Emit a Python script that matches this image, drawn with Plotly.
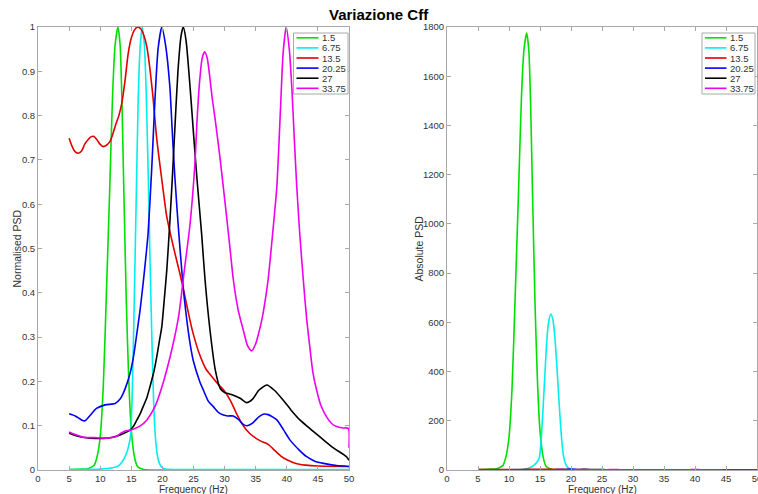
import plotly.graph_objects as go

# ---- data: normalised PSD per Cff value (frequency grids in Hz) ----
series_names = ["1.5", "6.75", "13.5", "20.25", "27", "33.75"]
series_colors = ["#00e000", "#00eeee", "#e00000", "#0000ee", "#000000", "#ee00ee"]
# peak absolute PSD of each series (normalised curve * peak = absolute curve)
peak_abs = [1775, 634, 3.0, 2.5, 2.0, 1.5]

f_15 = [5, 7, 8, 9, 9.5, 10, 10.5, 11, 11.5, 12, 12.4, 12.85, 13.2, 13.5, 13.8,
        14.2, 14.6, 15, 15.5, 16, 17, 20, 30, 40, 50]
p_15 = [0.001, 0.002, 0.003, 0.01, 0.03, 0.075, 0.19, 0.4, 0.62, 0.85, 0.96, 1.0,
        0.96, 0.83, 0.63, 0.38, 0.2, 0.09, 0.03, 0.008, 0.001, 0, 0, 0, 0]

f_675 = [5, 10, 12, 13, 13.5, 14, 14.5, 14.9, 15.2, 15.5, 15.8, 16.1, 16.4, 16.75,
         17.1, 17.4, 17.7, 18.0, 18.3, 18.6, 18.9, 19.3, 19.8, 20.5, 25, 50]
p_675 = [0.001, 0.002, 0.005, 0.01, 0.018, 0.03, 0.05, 0.08, 0.2, 0.4, 0.62, 0.83,
         0.95, 1.0, 0.96, 0.85, 0.68, 0.48, 0.3, 0.15, 0.07, 0.025, 0.008, 0.002,
         0.001, 0.001]

f_135 = [5, 5.5, 6, 6.5, 7, 7.5, 8, 8.5, 9, 9.5, 10, 10.5, 11, 11.5, 12, 12.5, 13,
         13.5, 14, 14.5, 15, 15.5, 16, 16.5, 17, 17.5, 18, 18.5, 19, 19.5, 20, 20.7,
         21.5, 22, 22.8, 23.5, 24.4, 25, 26, 27, 28, 29, 30, 31, 32, 33, 34, 35, 36,
         37, 38, 39, 40, 41, 42, 43, 45, 50]
p_135 = [0.749, 0.73, 0.718, 0.715, 0.72, 0.735, 0.745, 0.752, 0.753, 0.745, 0.735,
         0.73, 0.733, 0.74, 0.757, 0.78, 0.8, 0.83, 0.88, 0.94, 0.975, 0.993, 1.0,
         0.996, 0.982, 0.955, 0.905, 0.84, 0.76, 0.7, 0.645, 0.572, 0.52, 0.49,
         0.444, 0.4, 0.34, 0.305, 0.26, 0.228, 0.21, 0.193, 0.178, 0.155, 0.125, 0.1,
         0.083, 0.072, 0.064, 0.058, 0.045, 0.032, 0.023, 0.017, 0.013, 0.011, 0.009,
         0.008]

f_2025 = [5, 6, 7, 7.55, 8.3, 9.4, 10.8, 12.4, 13.2, 13.7, 14.3, 14.8, 15.4, 15.9,
          16.4, 16.9, 17.3, 17.7, 18.3, 18.8, 19.3, 19.9, 20.5, 21.2, 21.6, 22, 22.5,
          23, 23.5, 24.4, 25, 26, 26.6, 27.4, 28.2, 29, 29.8, 30.5, 31.4, 32.3, 33,
          33.6, 34.5, 35.5, 36.2, 37, 38.4, 39.5, 40.5, 42, 43.2, 44.5, 45.9, 48, 50]
p_2025 = [0.127, 0.122, 0.113, 0.111, 0.122, 0.139, 0.147, 0.15, 0.16, 0.173, 0.195,
          0.218, 0.26, 0.309, 0.36, 0.421, 0.475, 0.534, 0.685, 0.835, 0.95, 1.0,
          0.96, 0.865, 0.76, 0.662, 0.56, 0.47, 0.39, 0.29, 0.245, 0.2, 0.18, 0.155,
          0.143, 0.13, 0.124, 0.122, 0.122, 0.113, 0.103, 0.1, 0.106, 0.12, 0.126,
          0.125, 0.113, 0.09, 0.068, 0.045, 0.03, 0.02, 0.015, 0.01, 0.008]

f_27 = [5, 6, 6.75, 8.4, 10, 11, 12, 13.2, 14, 14.8, 15.4, 15.9, 16.4, 16.9, 17.5,
        18, 18.6, 19.1, 19.5, 19.9, 20.3, 20.7, 21.2, 21.6, 22, 22.5, 23, 23.35,
        23.8, 24.4, 25, 25.6, 26.3, 26.85, 27.65, 28.5, 29.3, 30, 30.7, 31.4, 32.5,
        33.55, 34.5, 35.5, 36.8, 38, 39.4, 40.7, 42.1, 44, 45.9, 47.5, 49.6, 50]
p_27 = [0.083, 0.078, 0.075, 0.072, 0.071, 0.072, 0.074, 0.079, 0.084, 0.09, 0.1,
        0.113, 0.126, 0.143, 0.163, 0.188, 0.22, 0.256, 0.29, 0.323, 0.385, 0.45,
        0.56, 0.66, 0.77, 0.9, 0.98, 1.0, 0.97, 0.873, 0.76, 0.65, 0.534, 0.43,
        0.316, 0.226, 0.184, 0.175, 0.172, 0.169, 0.162, 0.152, 0.16, 0.18, 0.192,
        0.18, 0.158, 0.135, 0.113, 0.09, 0.068, 0.05, 0.03, 0.022]

f_3375 = [5, 6, 7.3, 9, 11, 12.5, 13.2, 14, 14.8, 15.5, 16.5, 17.5, 18.8, 20.1, 21.5,
          22.6, 23.6, 24.4, 25.2, 25.6, 26, 26.4, 26.8, 27.2, 27.6, 28, 28.5, 29.3,
          30.1, 30.8, 31.4, 32.2, 33, 33.7, 34.35, 35, 35.5, 36, 36.5, 37, 37.7,
          38.4, 39, 39.4, 39.9, 40.4, 40.8, 41.2, 41.6, 42.1, 42.65, 43.2, 43.7,
          44.2, 44.8, 45.5, 46.4, 47.2, 48, 49, 49.9, 50]
p_3375 = [0.086, 0.08, 0.074, 0.073, 0.072, 0.075, 0.082, 0.088, 0.09, 0.093, 0.1,
          0.113, 0.143, 0.196, 0.271, 0.346, 0.459, 0.549, 0.685, 0.797, 0.88, 0.93,
          0.944, 0.93, 0.89, 0.84, 0.79, 0.7, 0.6, 0.51, 0.43, 0.36, 0.316, 0.28,
          0.269, 0.285, 0.31, 0.34, 0.38, 0.43, 0.53, 0.64, 0.82, 0.94, 1.0, 0.95,
          0.865, 0.75, 0.64, 0.53, 0.43, 0.34, 0.278, 0.22, 0.18, 0.145, 0.12, 0.105,
          0.098, 0.095, 0.094, 0.05]

freqs = [f_15, f_675, f_135, f_2025, f_27, f_3375]
norm_psd = [p_15, p_675, p_135, p_2025, p_27, p_3375]

x_ticks = list(range(0, 51, 5))

# ---- page geometry (pixels) ----
W, H = 758, 494
def px(x):
    return x / W
def py(y):
    return 1 - y / H

AX_COL = "#a8a8a8"
TXT_COL = "#333333"
FONT = "Liberation Sans, Arial, sans-serif"

fig = go.Figure()

for i, name in enumerate(series_names):
    fig.add_trace(go.Scatter(
        x=freqs[i], y=norm_psd[i], mode="lines", name=name,
        line=dict(color=series_colors[i], width=1.6, shape="spline", smoothing=0.6),
        xaxis="x", yaxis="y", showlegend=False))
for i, name in enumerate(series_names):
    fig.add_trace(go.Scatter(
        x=freqs[i], y=[v * peak_abs[i] for v in norm_psd[i]], mode="lines", name=name,
        line=dict(color=series_colors[i], width=1.6, shape="spline", smoothing=0.6),
        xaxis="x2", yaxis="y2", showlegend=False))

common_axis = dict(showline=True, linecolor=AX_COL, linewidth=1, mirror="ticks",
                   ticks="inside", ticklen=4, tickcolor=AX_COL, showgrid=False,
                   zeroline=False, automargin=False, ticklabeloverflow="allow",
                   tickfont=dict(family=FONT, size=9.5, color=TXT_COL))

fig.update_layout(
    width=W, height=H, margin=dict(l=0, r=0, t=0, b=0, autoexpand=False),
    paper_bgcolor="white", plot_bgcolor="white",
    xaxis=dict(domain=[px(38), px(349)], range=[0, 50], tickvals=x_ticks,
               anchor="y", **common_axis),
    yaxis=dict(domain=[py(470), py(27)], range=[0, 1], dtick=0.1, tick0=0,
               anchor="x", **common_axis),
    xaxis2=dict(domain=[px(447), px(757)], range=[0, 50], tickvals=x_ticks,
                anchor="y2", **common_axis),
    yaxis2=dict(domain=[py(470), py(27)], range=[0, 1800], dtick=200, tick0=0,
                anchor="x2", **common_axis),
)

annotations = [
    dict(text="<b>Variazione Cff</b>", x=px(379), y=py(14), xref="paper", yref="paper",
         showarrow=False, font=dict(family=FONT, size=15, color="#000000"),
         xanchor="center", yanchor="middle"),
    dict(text="Frequency (Hz)", x=px(193.5), y=py(489), xref="paper", yref="paper",
         showarrow=False, font=dict(family=FONT, size=10, color=TXT_COL),
         xanchor="center", yanchor="middle"),
    dict(text="Frequency (Hz)", x=px(602), y=py(489), xref="paper", yref="paper",
         showarrow=False, font=dict(family=FONT, size=10, color=TXT_COL),
         xanchor="center", yanchor="middle"),
    dict(text="Normalised PSD", x=px(16), y=py(248.5), xref="paper", yref="paper",
         showarrow=False, textangle=-90, font=dict(family=FONT, size=10.5, color=TXT_COL),
         xanchor="center", yanchor="middle"),
    dict(text="Absolute PSD", x=px(418), y=py(248.5), xref="paper", yref="paper",
         showarrow=False, textangle=-90, font=dict(family=FONT, size=10.5, color=TXT_COL),
         xanchor="center", yanchor="middle"),
]

# legend boxes (one per panel), built from the series names and colours
shapes = []
for (bx0, bx1, lx0, lx1) in [(293.5, 348, 296.5, 318.5), (702, 755, 705, 726.5)]:
    shapes.append(dict(type="rect", xref="paper", yref="paper",
                       x0=px(bx0), x1=px(bx1), y0=py(94), y1=py(33),
                       line=dict(color=AX_COL, width=1), fillcolor="white"))
    for i, name in enumerate(series_names):
        yy = 37.8 + i * 10.1
        shapes.append(dict(type="line", xref="paper", yref="paper",
                           x0=px(lx0), x1=px(lx1), y0=py(yy), y1=py(yy),
                           line=dict(color=series_colors[i], width=1.6)))
        annotations.append(dict(text=name, x=px(lx1 + 1.5), y=py(yy), xref="paper",
                                yref="paper", showarrow=False, xanchor="left",
                                yanchor="middle",
                                font=dict(family=FONT, size=9.5, color=TXT_COL)))

fig.update_layout(annotations=annotations, shapes=shapes)

fig.write_html("out.html")
